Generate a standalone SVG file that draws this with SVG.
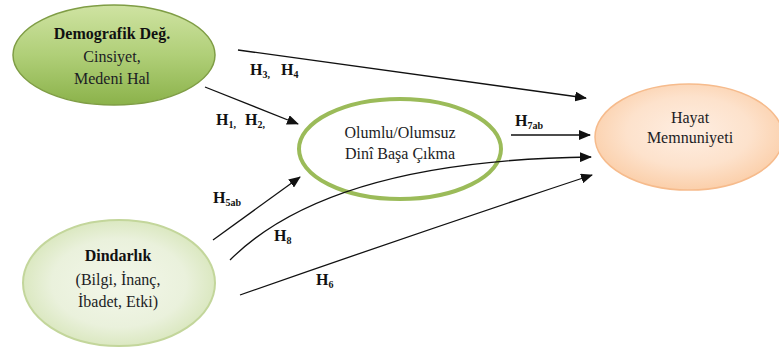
<svg xmlns="http://www.w3.org/2000/svg" width="779" height="354" viewBox="0 0 779 354">
<style>
.t{font-family:"Liberation Serif","Tinos","DejaVu Serif",serif;font-size:16px;fill:#1c1c24;text-anchor:middle}
.b{font-weight:bold;fill:#111}
.lab{font-family:"Liberation Serif","Tinos","DejaVu Serif",serif;font-size:16px;font-weight:bold;fill:#111}
.sub{font-size:10px}
.c{fill:none;stroke:#111;stroke-width:1.3}
</style>
<defs>
<linearGradient id="g1" x1="0" y1="0" x2="0" y2="1">
<stop offset="0" stop-color="#cfe3a2"/>
<stop offset="0.5" stop-color="#b0cf78"/>
<stop offset="1" stop-color="#8bb24a"/>
</linearGradient>
<radialGradient id="g2" cx="0.5" cy="0.5" r="0.5">
<stop offset="0" stop-color="#f3f7ea"/>
<stop offset="0.7" stop-color="#eaf1dc"/>
<stop offset="1" stop-color="#dbe8c1"/>
</radialGradient>
<radialGradient id="g4" cx="0.5" cy="0.45" r="0.55">
<stop offset="0" stop-color="#feeee2"/>
<stop offset="0.6" stop-color="#fde2cc"/>
<stop offset="1" stop-color="#fbcfaa"/>
</radialGradient>
<marker id="ah" viewBox="0 0 12 10" refX="11" refY="5" markerWidth="12" markerHeight="10" markerUnits="userSpaceOnUse" orient="auto">
<path d="M0,0 L12,5 L0,10 Z" fill="#111"/>
</marker>
</defs>
<g id="demografik">
<ellipse cx="114" cy="55" rx="101" ry="50" fill="url(#g1)" stroke="#7f9d45" stroke-width="1.5"/>
<text class="t b" x="112" y="39">Demografik Değ.</text>
<text class="t" x="112" y="62">Cinsiyet,</text>
<text class="t" x="112" y="84">Medeni Hal</text>
</g>
<g id="dindarlik">
<ellipse cx="119" cy="283" rx="96" ry="63" fill="url(#g2)" stroke="#c3d69b" stroke-width="2"/>
<text class="t b" x="118" y="261">Dindarlık</text>
<text class="t" x="118" y="285">(Bilgi, İnanç,</text>
<text class="t" x="118" y="307">İbadet, Etki)</text>
</g>
<g id="olumlu">
<ellipse cx="400" cy="149" rx="101" ry="50" fill="#fff" stroke="#9bbb59" stroke-width="4"/>
<text class="t" x="400" y="138">Olumlu/Olumsuz</text>
<text class="t" x="400" y="159">Dinî Başa Çıkma</text>
</g>
<g id="hayat">
<ellipse cx="689" cy="137" rx="94" ry="53" fill="url(#g4)" stroke="#f6bb8c" stroke-width="1.5"/>
<text class="t" x="690" y="123">Hayat</text>
<text class="t" x="690" y="143">Memnuniyeti</text>
</g>
<g id="connectors">
<line class="c" x1="238" y1="50" x2="586" y2="98" marker-end="url(#ah)"/>
<line class="c" x1="205" y1="87" x2="298" y2="124" marker-end="url(#ah)"/>
<line class="c" x1="511" y1="135" x2="590" y2="135" marker-end="url(#ah)"/>
<line class="c" x1="213" y1="240" x2="300" y2="177" marker-end="url(#ah)"/>
<path class="c" d="M230,260 Q330,160 591,157" marker-end="url(#ah)"/>
<path class="c" d="M240,295 Q420,232 592,175" marker-end="url(#ah)"/>
</g>
<g id="labels">
<text class="lab" x="250" y="75">H<tspan class="sub" dy="3">3,</tspan><tspan dy="-3" x="281">H</tspan><tspan class="sub" dy="3">4</tspan></text>
<text class="lab" x="216" y="125">H<tspan class="sub" dy="3">1,</tspan><tspan dy="-3" x="245">H</tspan><tspan class="sub" dy="3">2,</tspan></text>
<text class="lab" x="515" y="126">H<tspan class="sub" dy="3">7ab</tspan></text>
<text class="lab" x="213" y="203">H<tspan class="sub" dy="3">5ab</tspan></text>
<text class="lab" x="274" y="241">H<tspan class="sub" dy="3">8</tspan></text>
<text class="lab" x="316" y="285">H<tspan class="sub" dy="3">6</tspan></text>
</g>
</svg>
